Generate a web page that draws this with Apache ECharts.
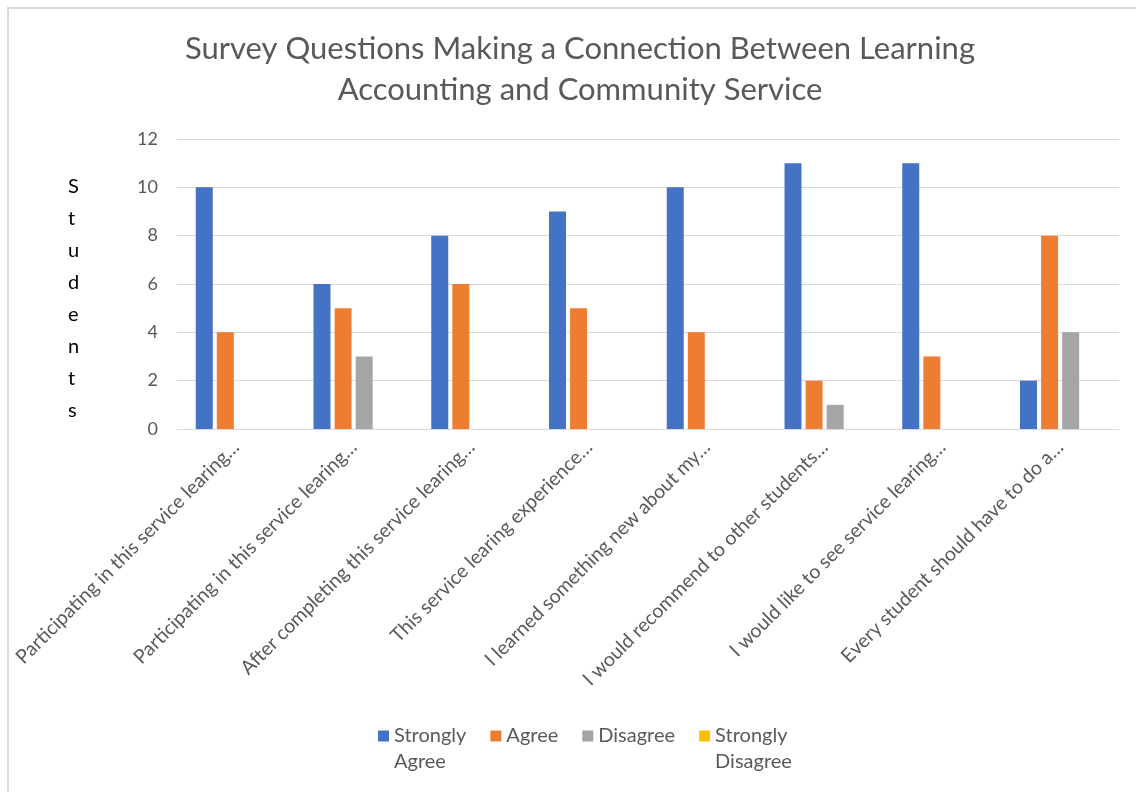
<!DOCTYPE html>
<html>
<head>
<meta charset="utf-8">
<script src="https://cdn.jsdelivr.net/npm/echarts@6/dist/echarts.min.js"></script>
<style>
html,body{margin:0;padding:0;background:#fff;}
#chart{width:1136px;height:792px;}
</style>
</head>
<body>
<div id="chart"></div>
<script>
const categories = [
  "Participating in this service learing…",
  "Participating in this service learing…",
  "After completing this service learing…",
  "This service learing experience…",
  "I learned something new about my…",
  "I would recommend to other students…",
  "I would like to see service learing…",
  "Every student should have to do a…"
];
const stronglyAgree = [10, 6, 8, 9, 10, 11, 11, 2];
const agree = [4, 5, 6, 5, 4, 2, 3, 8];
const disagree = [0, 3, 0, 0, 0, 1, 0, 4];
const stronglyDisagree = [0, 0, 0, 0, 0, 0, 0, 0];
const yTicks = [0, 2, 4, 6, 8, 10, 12];
const titleLines = ["Survey Questions Making a Connection Between Learning", "Accounting and Community Service"];
const yTitle = "Students";
const legendLabels = {
  "Strongly Agree": " \nStrongly\nAgree",
  "Agree": " \nAgree\n ",
  "Disagree": " \nDisagree\n ",
  "Strongly Disagree": " \nStrongly\nDisagree"
};

const FONT = "Lato";
const chart = echarts.init(document.getElementById('chart'), null, {renderer: 'canvas'});
const catKeys = categories.map((c, i) => String(i));

function mk(name, data, color) {
  return {
    name: name, type: 'bar', data: data,
    barWidth: 17, barGap: '24%',
    itemStyle: {color: color},
    emphasis: {disabled: true}
  };
}

chart.setOption({
  animation: false,
  backgroundColor: '#fff',
  textStyle: {fontFamily: FONT},
  title: {
    text: titleLines.join('\n'),
    left: 575, textAlign: 'center', top: 23,
    textStyle: {fontFamily: FONT, fontSize: 31, fontWeight: 'normal', color: '#595959', lineHeight: 41}
  },
  grid: {left: 177, right: 17, top: 139, bottom: 363, containLabel: false},
  xAxis: {
    type: 'category',
    data: catKeys,
    axisLine: {lineStyle: {color: '#d9d9d9', width: 1}},
    axisTick: {show: false},
    axisLabel: {
      interval: 0, rotate: 45, margin: 15,
      fontFamily: FONT, fontSize: 19.5, color: '#595959',
      formatter: (v) => categories[+v]
    }
  },
  yAxis: {
    type: 'value', min: 0, max: 12, interval: 2,
    axisLine: {show: false}, axisTick: {show: false},
    splitLine: {lineStyle: {color: '#d9d9d9', width: 1}},
    axisLabel: {fontFamily: FONT, fontSize: 18, color: '#595959', margin: 19,
      formatter: (v) => yTicks.includes(v) ? String(v) : ''}
  },
  legend: {
    top: 692, left: 373,
    itemWidth: 11, itemHeight: 11, itemGap: 24,
    icon: 'rect',
    selectedMode: false,
    formatter: (n) => legendLabels[n],
    textStyle: {fontFamily: FONT, fontSize: 20, color: '#595959', lineHeight: 26}
  },
  graphic: [
    {type: 'rect', shape: {x: 8, y: 8, width: 1200, height: 900}, style: {fill: 'none', stroke: '#d9d9d9', lineWidth: 2}, silent: true},
    {type: 'text', left: 68, top: 171, style: {text: yTitle.split('').join('\n'), fontFamily: FONT, fontSize: 20, lineHeight: 32, fill: '#000', align: 'center'}}
  ],
  series: [
    mk('Strongly Agree', stronglyAgree, '#4472C4'),
    mk('Agree', agree, '#ED7D31'),
    mk('Disagree', disagree, '#A5A5A5'),
    mk('Strongly Disagree', stronglyDisagree, '#FFC000')
  ]
});
</script>
</body>
</html>
